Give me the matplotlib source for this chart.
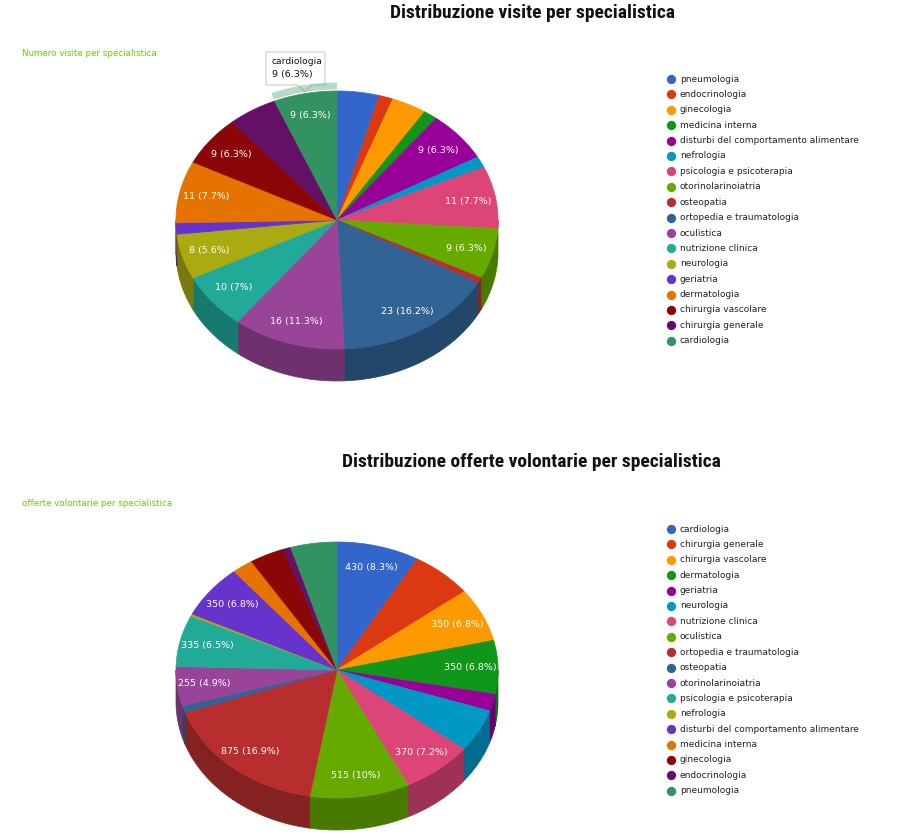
import numpy as np
import matplotlib.pyplot as plt
from matplotlib.colors import to_rgb
from matplotlib import font_manager

# --- data ---
title1 = "Distribuzione visite per specialistica"
subtitle1 = "Numero visite per specialistica"
names1 = ["pneumologia", "endocrinologia", "ginecologia", "medicina interna",
          "disturbi del comportamento alimentare", "nefrologia", "psicologia e psicoterapia",
          "otorinolarinoiatria", "osteopatia", "ortopedia e traumatologia", "oculistica",
          "nutrizione clinica", "neurologia", "geriatria", "dermatologia",
          "chirurgia vascolare", "chirurgia generale", "cardiologia"]
visits = [6, 2, 5, 2, 9, 2, 11, 9, 1, 23, 16, 10, 8, 2, 11, 9, 7, 9]
shown1 = ["disturbi del comportamento alimentare", "psicologia e psicoterapia",
          "otorinolarinoiatria", "ortopedia e traumatologia", "oculistica",
          "nutrizione clinica", "neurologia", "dermatologia", "chirurgia vascolare",
          "cardiologia"]

title2 = "Distribuzione offerte volontarie per specialistica"
subtitle2 = "offerte volontarie per specialistica"
names2 = ["cardiologia", "chirurgia generale", "chirurgia vascolare", "dermatologia",
          "geriatria", "neurologia", "nutrizione clinica", "oculistica",
          "ortopedia e traumatologia", "osteopatia", "otorinolarinoiatria",
          "psicologia e psicoterapia", "nefrologia", "disturbi del comportamento alimentare",
          "medicina interna", "ginecologia", "endocrinologia", "pneumologia"]
offers = [430, 320, 350, 350, 110, 280, 370, 515, 875, 45, 255, 335, 15, 350, 110, 180, 40, 240]
shown2 = ["cardiologia", "chirurgia vascolare", "dermatologia", "nutrizione clinica",
          "oculistica", "ortopedia e traumatologia", "otorinolarinoiatria",
          "psicologia e psicoterapia", "disturbi del comportamento alimentare"]

palette = ["#3366cc", "#dc3912", "#ff9900", "#109618", "#990099", "#0099c6",
           "#dd4477", "#66aa00", "#b82e2e", "#316395", "#994499", "#22aa99",
           "#aaaa11", "#6633cc", "#e67300", "#8b0707", "#651067", "#329262"]


def pct_text(v, total):
    p = round(100.0 * v / total, 1)
    s = ("%.1f" % p).rstrip("0").rstrip(".")
    return "%d (%s%%)" % (v, s)


def pie3d(ax, names, values, shown, cx, cy, rx, ry, depth):
    total = float(sum(values))
    edges = np.concatenate([[0], np.cumsum(values)]) / total * 2 * np.pi
    # side walls (front half only)
    for i in range(len(values)):
        lo = max(edges[i], np.pi / 2)
        hi = min(edges[i + 1], 3 * np.pi / 2)
        if hi <= lo:
            continue
        t = np.linspace(lo, hi, 60)
        x = cx + rx * np.sin(t)
        y = cy - ry * np.cos(t)
        side = tuple(c * 0.72 for c in to_rgb(palette[i]))
        ax.fill(np.r_[x, x[::-1]], np.r_[y, y[::-1] + depth], color=side,
                lw=0.5, ec=side)
    # top faces
    for i in range(len(values)):
        t = np.linspace(edges[i], edges[i + 1], 80)
        x = np.r_[cx, cx + rx * np.sin(t)]
        y = np.r_[cy, cy - ry * np.cos(t)]
        ax.fill(x, y, color=palette[i], lw=0.5, ec=palette[i])
    # slice labels
    for i, n in enumerate(names):
        if n not in shown:
            continue
        m = (edges[i] + edges[i + 1]) / 2
        ax.text(cx + 0.83 * rx * np.sin(m), cy - 0.83 * ry * np.cos(m),
                pct_text(values[i], total), color="white", fontsize=6.8,
                ha="center", va="center")
    return edges


def legend(ax, names, x0, y0, step):
    for i, n in enumerate(names):
        ax.scatter([x0], [y0 + i * step], s=45, color=palette[i], lw=0)
        ax.text(x0 + 9, y0 + i * step, n, fontsize=6.5, color="#222222",
                va="center", ha="left")


# narrowest available bold face for the titles
avail = {f.name for f in font_manager.fontManager.ttflist}
tfam = "DejaVu Sans"
for cand in ["Liberation Sans Narrow", "DejaVu Sans Condensed", "Roboto Condensed"]:
    if cand in avail:
        tfam = cand
        break

fig = plt.figure(figsize=(9.09, 8.39), dpi=100)
ax = fig.add_axes([0, 0, 1, 1])
ax.set_xlim(0, 909)
ax.set_ylim(839, 0)
ax.axis("off")

tfont = dict(family=[tfam, "DejaVu Sans"], fontweight="bold", fontstretch="condensed",
             fontsize=14, ha="center", va="center", color="#111111")

# chart 1
ax.text(532, 13, title1, **tfont)
ax.text(22, 54, subtitle1, fontsize=6.3, color="#66cc11", va="center")
e1 = pie3d(ax, names1, visits, shown1, 337, 220, 161, 129, 32)
legend(ax, names1, 671, 79, 15.4)

# hover highlight + tooltip on cardiologia
ci = names1.index("cardiologia")
t = np.linspace(e1[ci], e1[ci + 1], 40)
ax.plot(337 + 166 * np.sin(t), 220 - 134 * np.cos(t), color=palette[ci],
        lw=5, alpha=0.35, solid_capstyle="butt")
ax.fill([266, 325, 325, 312, 305, 298, 266], [52, 52, 85, 85, 92, 85, 85],
        color="white", ec="#cccccc", lw=0.8)
ax.text(272, 61, "cardiologia", fontsize=6.6, color="#111111", va="center")
ax.text(272, 74, pct_text(visits[ci], sum(visits)), fontsize=6.8,
        color="#111111", va="center")

# chart 2
ax.text(531, 462, title2, **tfont)
ax.text(22, 504, subtitle2, fontsize=6.3, color="#66cc11", va="center")
pie3d(ax, names2, offers, shown2, 337, 670, 161, 128, 32)
legend(ax, names2, 671, 529, 15.4)

fig.savefig("out.png", dpi=100)
